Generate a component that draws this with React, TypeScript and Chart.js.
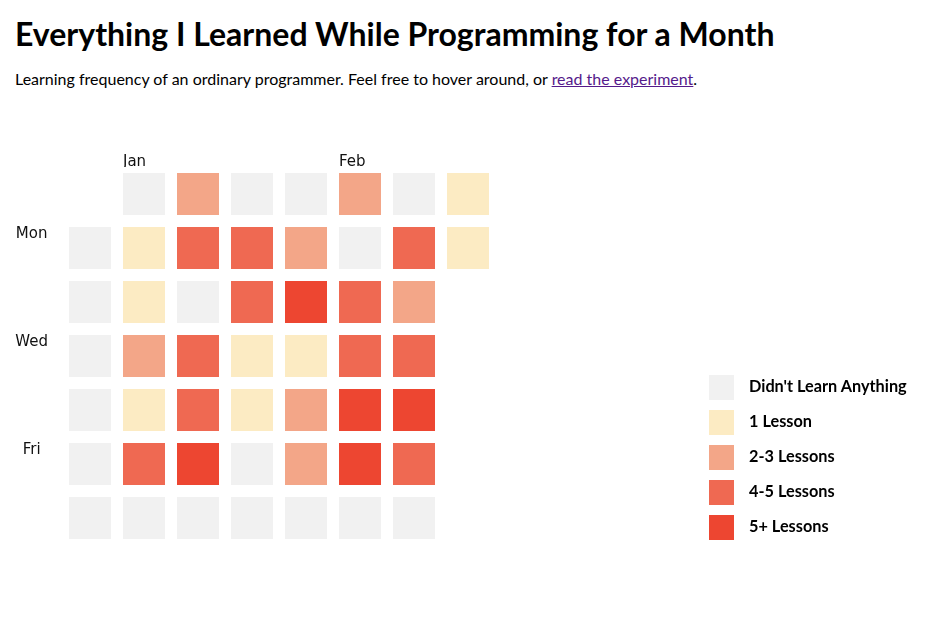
import React, { useEffect, useRef } from "react";
import { Chart, registerables } from "chart.js";

Chart.register(...registerables);

const weeks = ["W1", "W2", "W3", "W4", "W5", "W6", "W7", "W8"];
const monthTicks = ["", "Jan", "", "", "", "Feb", "", ""];
const days = ["Sun", "Mon", "Tue", "Wed", "Thu", "Fri", "Sat"];
const dayTickIndexes = [1, 3, 5];

// level per week: 0 none, 1 = 1 lesson, 2 = 2-3, 3 = 4-5, 4 = 5+, null = no day
const sun = [null, 0, 2, 0, 0, 2, 0, 1];
const mon = [0, 1, 3, 3, 2, 0, 3, 1];
const tue = [0, 1, 0, 3, 4, 3, 2, null];
const wed = [0, 2, 3, 1, 1, 3, 3, null];
const thu = [0, 1, 3, 1, 2, 4, 4, null];
const fri = [0, 3, 4, 0, 2, 4, 3, null];
const sat = [0, 0, 0, 0, 0, 0, 0, null];
const rows = [sun, mon, tue, wed, thu, fri, sat];

const legendLabels = ["Didn't Learn Anything", "1 Lesson", "2-3 Lessons", "4-5 Lessons", "5+ Lessons"];
const levelColors = ["#f1f1f1", "#fcebc3", "#f3a688", "#ef6952", "#ed4631"];

const HALF = 0.5 - 6 / 54;

export default function App() {
  const ref = useRef<HTMLCanvasElement | null>(null);

  useEffect(() => {
    if (!ref.current) return;
    const datasets = rows.map((row, d) => ({
      label: days[d],
      data: row.map((v) => (v === null ? null : [d - HALF, d + HALF])),
      backgroundColor: row.map((v) => (v === null ? "rgba(0,0,0,0)" : levelColors[v])),
      borderWidth: 0,
      grouped: false,
      barPercentage: 42 / 54,
      categoryPercentage: 1,
    }));
    const chart = new Chart(ref.current, {
      type: "bar",
      data: { labels: weeks, datasets: datasets as any },
      options: {
        animation: false,
        responsive: true,
        maintainAspectRatio: false,
        layout: { padding: { left: 0, top: 0, right: 446, bottom: 72 } },
        plugins: { legend: { display: false }, tooltip: { enabled: false } },
        scales: {
          x: {
            type: "category",
            position: "top",
            offset: true,
            grid: { display: false, drawTicks: false },
            border: { display: false },
            afterFit: (s: any) => {
              s.height = 67;
            },
            ticks: {
              autoSkip: false,
              maxRotation: 0,
              minRotation: 0,
              align: "start",
              labelOffset: -21,
              padding: -4,
              color: "#111",
              font: { family: "DejaVu Sans", size: 15 },
              callback: (_v: any, i: number) => monthTicks[i],
            },
          },
          y: {
            type: "linear",
            min: -0.5,
            max: 6.5,
            reverse: true,
            grid: { display: false, drawTicks: false },
            border: { display: false },
            afterFit: (s: any) => {
              s.width = 63;
            },
            afterBuildTicks: (s: any) => {
              s.ticks = dayTickIndexes.map((v) => ({ value: v }));
            },
            ticks: {
              crossAlign: "center",
              padding: 15,
              labelOffset: -14,
              color: "#111",
              font: { family: "DejaVu Sans", size: 15 },
              callback: (v: any) => days[Number(v)],
            },
          },
        },
      },
    });
    return () => chart.destroy();
  }, []);

  return (
    <div style={{ position: "absolute", left: 0, top: 0, width: 941, height: 617, fontFamily: "Lato", color: "#000" }}>
      <div style={{ position: "absolute", left: 15, top: 18, fontSize: 32, lineHeight: "32px", fontWeight: 700, whiteSpace: "nowrap" }}>
        Everything I Learned While Programming for a Month
      </div>
      <div style={{ position: "absolute", left: 15, top: 71, fontSize: 16, lineHeight: "16px", whiteSpace: "nowrap" }}>
        Learning frequency of an ordinary programmer. Feel free to hover around, or{" "}
        <a href="#" style={{ color: "#551a8b" }}>read the experiment</a>.
      </div>
      <div style={{ position: "absolute", left: 0, top: 100, width: 941, height: 517 }}>
        <canvas ref={ref} />
      </div>
      <div style={{ position: "absolute", left: 709, top: 375 }}>
        {legendLabels.map((l, i) => (
          <div key={l} style={{ display: "flex", alignItems: "center", height: 25, marginBottom: 10 }}>
            <div style={{ width: 25, height: 25, background: levelColors[i] }} />
            <span style={{ marginLeft: 15, marginTop: -4, fontSize: 16.3, fontWeight: 700, whiteSpace: "nowrap" }}>{l}</span>
          </div>
        ))}
      </div>
    </div>
  );
}
